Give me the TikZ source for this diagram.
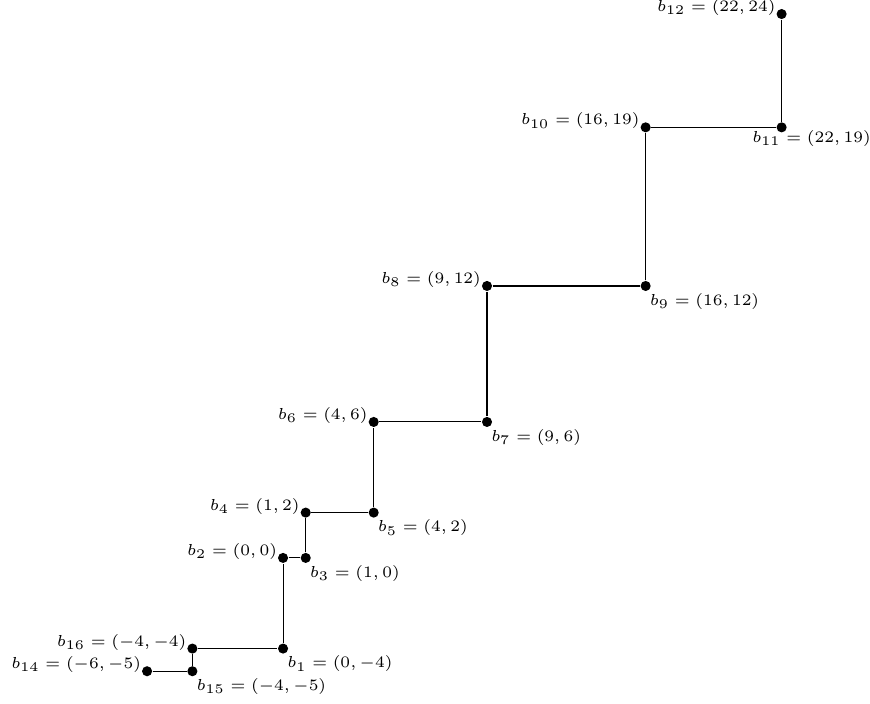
\documentclass[tikz,border=0pt]{standalone}
\usepackage{amsmath}
\usepackage{amssymb}
\usepackage{tikz}

\newcommand{\tagsize}{\fontsize{6.5}{8}\selectfont}

\begin{document}
\begin{tikzpicture}
		[x=0.3cm, y=0.3cm,
		vertex/.style={circle, fill=black, inner sep=0pt, minimum size=3.8pt},
		tagleft/.style={label={[font=\tagsize, inner sep=0pt, label distance=0pt, yshift=2.4pt]left:#1}},
		tagright/.style={label={[font=\tagsize, inner sep=0pt, label distance=-0.6pt, yshift=-5.8pt]right:#1}}]
		\useasboundingbox (-12.49,-6.44) rectangle (25.90,24.62);
		\node[vertex, tagright={\(b_{1} = (0, -4)\)}] (b1) at (0,-4) {};
		\node[vertex, tagleft={\(b_{2} = (0, 0)\)}] (b2) at (0,0) {};
		\node[vertex, tagright={\(b_{3} = (1, 0)\)}] (b3) at (1,0) {};
		\node[vertex, tagleft={\(b_{4} = (1, 2)\)}] (b4) at (1,2) {};
		\node[vertex, tagright={\(b_{5} = (4, 2)\)}] (b5) at (4,2) {};
		\node[vertex, tagleft={\(b_{6} = (4, 6)\)}] (b6) at (4,6) {};
		\node[vertex, tagright={\(b_{7} = (9, 6)\)}] (b7) at (9,6) {};
		\node[vertex, tagleft={\(b_{8} = (9, 12)\)}] (b8) at (9,12) {};
		\node[vertex, tagright={\(b_{9} = (16, 12)\)}] (b9) at (16,12) {};
		\node[vertex, tagleft={\(b_{10} = (16, 19)\)}] (b10) at (16,19) {};
		\node[vertex, label={[font=\tagsize, inner sep=0pt, xshift=-13.2pt, yshift=-4.3pt]right:\(b_{11} = (22, 19)\)}] (b11) at (22,19) {};
		\node[vertex, tagleft={\(b_{12} = (22, 24)\)}] (b12) at (22,24) {};
		\node[vertex, tagleft={\(b_{14} = (-6, -5)\)}] (b14) at (-6,-5) {};
		\node[vertex, tagright={\(b_{15} = (-4, -5)\)}] (b15) at (-4,-5) {};
		\node[vertex, tagleft={\(b_{16} = (-4, -4)\)}] (b16) at (-4,-4) {};

		\draw (b14) -- (b15) -- (b16) -- (b1) -- (b2) -- (b3) -- (b4) -- (b5) -- (b6)
			-- (b7) -- (b8) -- (b9) -- (b10) -- (b11) -- (b12);
	\end{tikzpicture}
\end{document}
